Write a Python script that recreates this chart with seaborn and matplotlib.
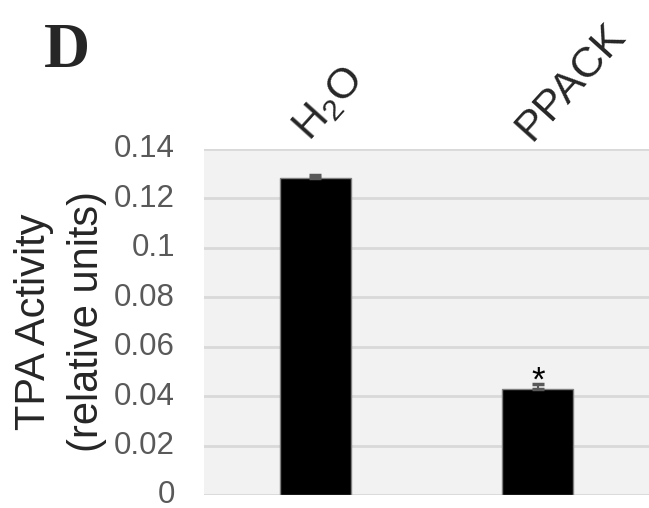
import pandas as pd
import seaborn as sns
import matplotlib.pyplot as plt
from matplotlib import transforms

groups = ["H$_2$O", "PPACK"]
activity = [0.1282, 0.0429]
errors = [0.0012, 0.0018]
yticks = [0, 0.02, 0.04, 0.06, 0.08, 0.1, 0.12, 0.14]
ytick_labels = ["0", "0.02", "0.04", "0.06", "0.08", "0.1", "0.12", "0.14"]

sns.set_theme(style="white")
plt.rcParams['font.family'] = ['Liberation Sans', 'DejaVu Sans']
plt.rcParams['mathtext.fontset'] = 'custom'
plt.rcParams['mathtext.rm'] = 'Liberation Sans'

df = pd.DataFrame({"group": groups, "activity": activity})

fig = plt.figure(figsize=(6.49, 5.08), dpi=100)
ax = fig.add_axes([0.3143, 0.0256, 0.6857, 0.6817])
ax.set_facecolor("#f2f2f2")

sns.barplot(data=df, x="group", y="activity", color="black", width=0.32,
            errorbar=None, edgecolor="#7f7f7f", linewidth=1, ax=ax, zorder=3)
ax.errorbar(range(len(groups)), activity, yerr=[[0, 0], errors], fmt="none",
            ecolor="#595959", elinewidth=1.5, capsize=4.5, capthick=2.5, zorder=4)

# significance mark
ax.text(1, activity[1] + errors[1] - 0.0024, "*", ha="center", va="baseline",
        fontsize=25, color="black")

ax.set_ylim(0, 0.14)
ax.set_xlim(-0.5, 1.5)
ax.set_yticks(yticks)
ax.set_yticklabels(ytick_labels)
ax.yaxis.grid(True, color="#d9d9d9", linewidth=2, zorder=0)
ax.set_axisbelow(True)
for s in ax.spines.values():
    s.set_visible(False)

ax.tick_params(axis="y", length=0, pad=21, labelsize=22.5, labelcolor="#595959")
ax.xaxis.tick_top()
ax.tick_params(axis="x", length=0, pad=10, labelsize=31)
offset = transforms.ScaledTranslation(-14 / 100, 0, fig.dpi_scale_trans)
for lab in ax.get_xticklabels():
    lab.set_rotation(48)
    lab.set_rotation_mode("anchor")
    lab.set_ha("left")
    lab.set_va("center")
    lab.set_transform(lab.get_transform() + offset)
for lab in ax.get_yticklabels():
    lab.set_transform(lab.get_transform()
                      + transforms.ScaledTranslation(0, 3 / 100, fig.dpi_scale_trans))

ax.set_xlabel("")
ax.set_ylabel("TPA Activity\n(relative units)", fontsize=30, linespacing=1.4,
              labelpad=5)

fig.text(0.068, 0.898, "D", family="Liberation Serif", fontweight="bold",
         fontsize=46, ha="left", va="center")

fig.savefig("out.png", dpi=100)
